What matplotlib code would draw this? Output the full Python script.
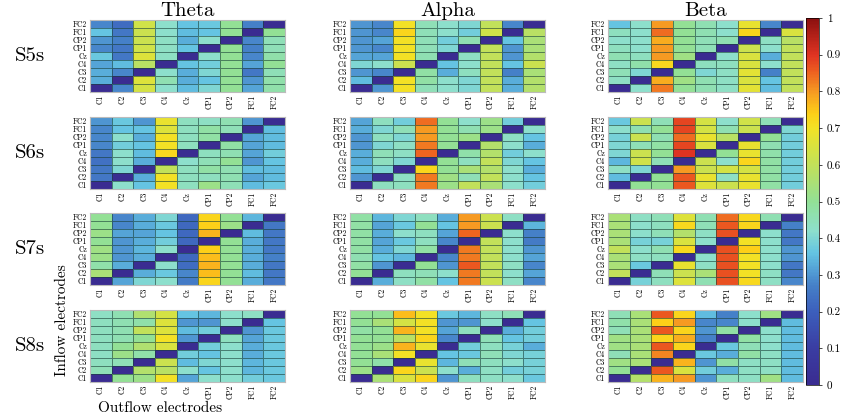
import numpy as np
import matplotlib
matplotlib.use("Agg")
import matplotlib.pyplot as plt
from matplotlib.colors import LinearSegmentedColormap

plt.rcParams["font.family"] = ["cmr10", "DejaVu Serif"]
plt.rcParams["axes.formatter.use_mathtext"] = True

electrodes = ["C1", "C2", "C3", "C4", "Cz", "CP1", "CP2", "FC1", "FC2"]
bands = ["Theta", "Alpha", "Beta"]
sessions = ["S5s", "S6s", "S7s", "S8s"]

# rows listed top to bottom (FC2 ... C1), columns C1 ... FC2
theta_s5 = [
    [0.28, 0.23, 0.63, 0.42, 0.36, 0.37, 0.50, 0.27, 0.00],
    [0.36, 0.25, 0.62, 0.42, 0.35, 0.36, 0.50, 0.00, 0.50],
    [0.30, 0.27, 0.62, 0.43, 0.33, 0.42, 0.00, 0.28, 0.45],
    [0.28, 0.25, 0.63, 0.43, 0.36, 0.00, 0.50, 0.27, 0.45],
    [0.37, 0.25, 0.66, 0.43, 0.00, 0.42, 0.50, 0.28, 0.47],
    [0.32, 0.35, 0.58, 0.00, 0.36, 0.38, 0.50, 0.32, 0.50],
    [0.33, 0.28, 0.00, 0.42, 0.33, 0.40, 0.50, 0.25, 0.45],
    [0.33, 0.00, 0.66, 0.46, 0.33, 0.36, 0.50, 0.30, 0.47],
    [0.00, 0.28, 0.64, 0.42, 0.35, 0.40, 0.50, 0.32, 0.47],
]
alpha_s5 = [
    [0.30, 0.28, 0.70, 0.45, 0.42, 0.40, 0.60, 0.28, 0.00],
    [0.30, 0.28, 0.73, 0.45, 0.42, 0.38, 0.63, 0.00, 0.58],
    [0.30, 0.32, 0.70, 0.45, 0.38, 0.46, 0.00, 0.36, 0.55],
    [0.30, 0.28, 0.70, 0.45, 0.40, 0.00, 0.60, 0.30, 0.55],
    [0.32, 0.32, 0.70, 0.46, 0.00, 0.43, 0.60, 0.30, 0.57],
    [0.40, 0.42, 0.62, 0.00, 0.36, 0.42, 0.60, 0.36, 0.62],
    [0.30, 0.28, 0.00, 0.48, 0.33, 0.44, 0.60, 0.27, 0.55],
    [0.35, 0.00, 0.70, 0.48, 0.42, 0.40, 0.60, 0.33, 0.57],
    [0.00, 0.30, 0.70, 0.45, 0.42, 0.40, 0.60, 0.33, 0.57],
]
beta_s5 = [
    [0.36, 0.42, 0.80, 0.50, 0.46, 0.42, 0.68, 0.28, 0.00],
    [0.44, 0.42, 0.84, 0.50, 0.46, 0.42, 0.73, 0.00, 0.65],
    [0.42, 0.42, 0.78, 0.50, 0.45, 0.46, 0.00, 0.43, 0.58],
    [0.44, 0.42, 0.80, 0.50, 0.45, 0.00, 0.62, 0.42, 0.60],
    [0.46, 0.44, 0.80, 0.53, 0.00, 0.42, 0.65, 0.33, 0.60],
    [0.43, 0.47, 0.72, 0.00, 0.44, 0.44, 0.65, 0.42, 0.60],
    [0.45, 0.40, 0.00, 0.50, 0.40, 0.43, 0.67, 0.27, 0.60],
    [0.43, 0.00, 0.78, 0.53, 0.46, 0.43, 0.65, 0.36, 0.60],
    [0.00, 0.42, 0.83, 0.50, 0.46, 0.43, 0.67, 0.35, 0.60],
]
theta_s6 = [
    [0.30, 0.37, 0.30, 0.68, 0.44, 0.43, 0.46, 0.30, 0.00],
    [0.28, 0.36, 0.36, 0.66, 0.44, 0.48, 0.45, 0.00, 0.35],
    [0.28, 0.42, 0.33, 0.70, 0.44, 0.48, 0.00, 0.32, 0.35],
    [0.28, 0.38, 0.36, 0.70, 0.44, 0.00, 0.48, 0.32, 0.35],
    [0.25, 0.42, 0.35, 0.72, 0.00, 0.44, 0.46, 0.32, 0.38],
    [0.24, 0.42, 0.33, 0.00, 0.42, 0.45, 0.50, 0.30, 0.36],
    [0.25, 0.40, 0.00, 0.60, 0.44, 0.48, 0.46, 0.35, 0.35],
    [0.25, 0.00, 0.33, 0.70, 0.44, 0.44, 0.46, 0.32, 0.35],
    [0.00, 0.42, 0.36, 0.70, 0.44, 0.52, 0.45, 0.35, 0.37],
]
alpha_s6 = [
    [0.32, 0.44, 0.38, 0.84, 0.50, 0.42, 0.52, 0.38, 0.00],
    [0.33, 0.40, 0.45, 0.80, 0.50, 0.46, 0.52, 0.00, 0.42],
    [0.30, 0.44, 0.40, 0.80, 0.50, 0.52, 0.00, 0.43, 0.36],
    [0.30, 0.40, 0.43, 0.83, 0.50, 0.00, 0.57, 0.42, 0.33],
    [0.33, 0.45, 0.43, 0.85, 0.00, 0.47, 0.57, 0.38, 0.42],
    [0.33, 0.44, 0.40, 0.00, 0.50, 0.44, 0.60, 0.40, 0.36],
    [0.35, 0.40, 0.00, 0.73, 0.50, 0.55, 0.57, 0.42, 0.33],
    [0.30, 0.00, 0.43, 0.83, 0.53, 0.45, 0.60, 0.42, 0.36],
    [0.00, 0.44, 0.44, 0.83, 0.52, 0.60, 0.55, 0.42, 0.38],
]
beta_s6 = [
    [0.37, 0.62, 0.45, 0.88, 0.64, 0.42, 0.63, 0.45, 0.00],
    [0.42, 0.46, 0.50, 0.88, 0.64, 0.46, 0.62, 0.00, 0.40],
    [0.39, 0.62, 0.46, 0.84, 0.68, 0.58, 0.00, 0.50, 0.38],
    [0.40, 0.45, 0.48, 0.88, 0.65, 0.00, 0.68, 0.46, 0.38],
    [0.40, 0.62, 0.50, 0.90, 0.00, 0.50, 0.68, 0.47, 0.38],
    [0.34, 0.63, 0.45, 0.00, 0.62, 0.42, 0.73, 0.48, 0.38],
    [0.43, 0.40, 0.00, 0.80, 0.62, 0.64, 0.64, 0.48, 0.38],
    [0.35, 0.00, 0.50, 0.86, 0.68, 0.43, 0.68, 0.48, 0.38],
    [0.00, 0.50, 0.50, 0.86, 0.66, 0.62, 0.68, 0.48, 0.38],
]
theta_s7 = [
    [0.50, 0.28, 0.33, 0.40, 0.22, 0.73, 0.50, 0.34, 0.00],
    [0.50, 0.28, 0.33, 0.37, 0.22, 0.74, 0.52, 0.00, 0.25],
    [0.52, 0.32, 0.32, 0.36, 0.22, 0.77, 0.00, 0.35, 0.25],
    [0.50, 0.30, 0.33, 0.38, 0.22, 0.00, 0.50, 0.33, 0.25],
    [0.53, 0.30, 0.34, 0.42, 0.00, 0.74, 0.50, 0.33, 0.25],
    [0.52, 0.30, 0.33, 0.00, 0.22, 0.76, 0.50, 0.33, 0.27],
    [0.47, 0.33, 0.00, 0.42, 0.23, 0.77, 0.50, 0.33, 0.25],
    [0.55, 0.00, 0.33, 0.37, 0.28, 0.76, 0.50, 0.35, 0.25],
    [0.00, 0.32, 0.40, 0.42, 0.26, 0.73, 0.50, 0.33, 0.25],
]
alpha_s7 = [
    [0.48, 0.34, 0.40, 0.44, 0.33, 0.80, 0.62, 0.43, 0.00],
    [0.48, 0.32, 0.37, 0.50, 0.36, 0.80, 0.62, 0.00, 0.34],
    [0.48, 0.33, 0.42, 0.44, 0.32, 0.85, 0.00, 0.42, 0.27],
    [0.48, 0.32, 0.37, 0.44, 0.28, 0.00, 0.60, 0.42, 0.26],
    [0.48, 0.33, 0.40, 0.48, 0.00, 0.83, 0.60, 0.42, 0.30],
    [0.46, 0.36, 0.34, 0.00, 0.28, 0.83, 0.60, 0.42, 0.32],
    [0.48, 0.30, 0.00, 0.50, 0.30, 0.86, 0.60, 0.43, 0.28],
    [0.50, 0.00, 0.44, 0.45, 0.42, 0.83, 0.60, 0.42, 0.32],
    [0.00, 0.33, 0.43, 0.48, 0.36, 0.83, 0.62, 0.43, 0.28],
]
beta_s7 = [
    [0.55, 0.43, 0.45, 0.66, 0.46, 0.84, 0.72, 0.46, 0.00],
    [0.55, 0.42, 0.44, 0.72, 0.45, 0.86, 0.73, 0.00, 0.27],
    [0.55, 0.42, 0.45, 0.57, 0.43, 0.87, 0.00, 0.42, 0.25],
    [0.55, 0.39, 0.39, 0.65, 0.42, 0.00, 0.70, 0.42, 0.25],
    [0.60, 0.42, 0.46, 0.72, 0.00, 0.87, 0.74, 0.42, 0.30],
    [0.55, 0.43, 0.44, 0.00, 0.42, 0.87, 0.70, 0.42, 0.30],
    [0.55, 0.37, 0.00, 0.68, 0.43, 0.87, 0.70, 0.42, 0.25],
    [0.60, 0.00, 0.45, 0.62, 0.55, 0.87, 0.70, 0.43, 0.25],
    [0.00, 0.39, 0.44, 0.66, 0.46, 0.87, 0.72, 0.43, 0.28],
]
theta_s8 = [
    [0.43, 0.46, 0.56, 0.64, 0.36, 0.34, 0.42, 0.43, 0.00],
    [0.44, 0.46, 0.47, 0.66, 0.30, 0.30, 0.42, 0.00, 0.36],
    [0.44, 0.46, 0.60, 0.66, 0.35, 0.38, 0.00, 0.30, 0.37],
    [0.44, 0.46, 0.50, 0.70, 0.30, 0.00, 0.44, 0.32, 0.37],
    [0.44, 0.50, 0.56, 0.65, 0.00, 0.38, 0.42, 0.33, 0.37],
    [0.43, 0.52, 0.47, 0.00, 0.38, 0.36, 0.42, 0.33, 0.37],
    [0.44, 0.45, 0.00, 0.62, 0.35, 0.40, 0.42, 0.34, 0.37],
    [0.45, 0.00, 0.57, 0.58, 0.42, 0.36, 0.42, 0.34, 0.37],
    [0.00, 0.50, 0.52, 0.70, 0.32, 0.42, 0.42, 0.38, 0.37],
]
alpha_s8 = [
    [0.50, 0.50, 0.76, 0.70, 0.37, 0.34, 0.43, 0.45, 0.00],
    [0.50, 0.55, 0.64, 0.70, 0.30, 0.30, 0.42, 0.00, 0.36],
    [0.48, 0.50, 0.77, 0.70, 0.32, 0.44, 0.00, 0.33, 0.38],
    [0.50, 0.50, 0.58, 0.73, 0.28, 0.00, 0.45, 0.36, 0.38],
    [0.50, 0.52, 0.77, 0.68, 0.00, 0.38, 0.44, 0.39, 0.33],
    [0.50, 0.55, 0.70, 0.00, 0.36, 0.37, 0.45, 0.40, 0.39],
    [0.50, 0.47, 0.00, 0.68, 0.34, 0.45, 0.44, 0.42, 0.39],
    [0.52, 0.00, 0.73, 0.62, 0.42, 0.33, 0.43, 0.38, 0.39],
    [0.00, 0.55, 0.65, 0.73, 0.30, 0.44, 0.43, 0.42, 0.37],
]
beta_s8 = [
    [0.45, 0.55, 0.86, 0.73, 0.35, 0.27, 0.42, 0.53, 0.00],
    [0.47, 0.55, 0.74, 0.80, 0.28, 0.28, 0.42, 0.00, 0.35],
    [0.45, 0.55, 0.86, 0.73, 0.30, 0.48, 0.00, 0.42, 0.35],
    [0.53, 0.55, 0.73, 0.78, 0.27, 0.00, 0.48, 0.42, 0.35],
    [0.53, 0.55, 0.86, 0.73, 0.00, 0.37, 0.45, 0.42, 0.35],
    [0.45, 0.55, 0.82, 0.00, 0.37, 0.33, 0.48, 0.43, 0.35],
    [0.53, 0.55, 0.00, 0.77, 0.30, 0.48, 0.43, 0.43, 0.35],
    [0.50, 0.00, 0.86, 0.65, 0.38, 0.33, 0.43, 0.43, 0.35],
    [0.00, 0.57, 0.77, 0.80, 0.30, 0.44, 0.43, 0.53, 0.35],
]

grid = [
    [theta_s5, alpha_s5, beta_s5],
    [theta_s6, alpha_s6, beta_s6],
    [theta_s7, alpha_s7, beta_s7],
    [theta_s8, alpha_s8, beta_s8],
]

# colour map: parula-like low end, jet-like high end
nodes = [
    (0.00, "#3a2c91"), (0.10, "#3a3da2"), (0.20, "#3c5fbc"), (0.27, "#4580c8"),
    (0.32, "#56a6d8"), (0.36, "#64c4e2"), (0.42, "#8ddfcc"), (0.50, "#92e096"),
    (0.57, "#b4e06a"), (0.64, "#d4e244"), (0.70, "#f2e226"), (0.74, "#fdd018"),
    (0.80, "#f69a22"), (0.86, "#ec5a20"), (0.90, "#e03422"), (1.00, "#8b1010"),
]
cmap = LinearSegmentedColormap.from_list("flow", nodes)

W, H = 846, 418
fig = plt.figure(figsize=(W / 100, H / 100), dpi=100)

lefts = [90, 350, 608]
tops = [20, 117, 213, 310]
pw, ph = 195, 72

mesh = None
for i, row in enumerate(grid):
    for j, mat in enumerate(row):
        ax = fig.add_axes([lefts[j] / W, 1 - (tops[i] + ph) / H, pw / W, ph / H])
        mesh = ax.pcolormesh(np.array(mat), cmap=cmap, vmin=0, vmax=1,
                             edgecolors=(0.1, 0.25, 0.22, 0.6), linewidth=0.5)
        ax.set_xlim(0, 9)
        ax.set_ylim(9, 0)
        ax.set_xticks(np.arange(9) + 0.5)
        ax.set_xticklabels(electrodes, rotation=90, fontsize=5.5)
        ax.set_yticks(np.arange(9) + 0.5)
        ax.set_yticklabels(electrodes[::-1], fontsize=5.5)
        ax.tick_params(length=0, pad=2)
        for s in ax.spines.values():
            s.set_color("#bbbbbb")
            s.set_linewidth(0.8)
        if i == 0:
            ax.set_title(bands[j], fontsize=15, pad=1)
    fig.text(30 / W, 1 - (tops[i] + ph / 2) / H, sessions[i], fontsize=15,
             ha="center", va="center")

fig.text(62 / W, 1 - 320 / H, "Inflow electrodes", rotation=90, fontsize=11,
         ha="center", va="center")
fig.text(160 / W, 1 - 408 / H, "Outflow electrodes", fontsize=11,
         ha="center", va="center")

cax = fig.add_axes([806 / W, 1 - 385 / H, 13 / W, 367 / H])
cb = fig.colorbar(mesh, cax=cax, ticks=np.linspace(0, 1, 11))
cb.ax.set_yticklabels(["0", "0.1", "0.2", "0.3", "0.4", "0.5", "0.6", "0.7",
                       "0.8", "0.9", "1"])
cb.ax.tick_params(labelsize=8, length=2, width=0.5)
cb.outline.set_linewidth(0.5)

fig.savefig("out.png", dpi=100)
